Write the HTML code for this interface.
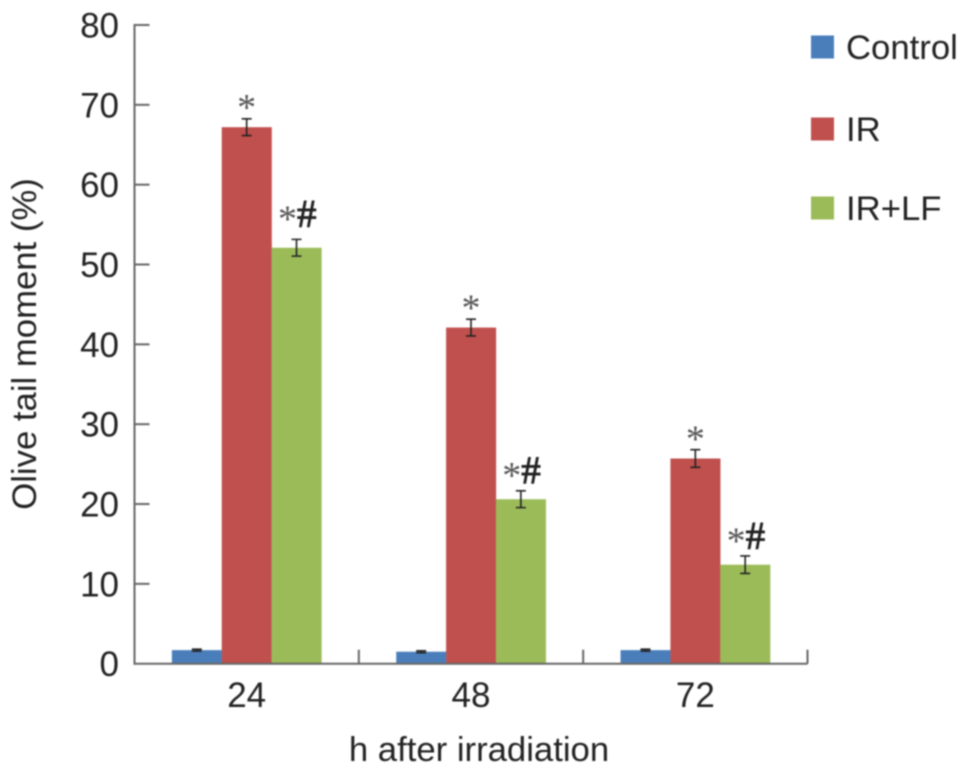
<!DOCTYPE html>
<html>
<head>
<meta charset="utf-8">
<title>Olive tail moment chart</title>
<style>
html,body{margin:0;padding:0;background:#fff;}
svg{display:block;filter:blur(0.75px);}
text{font-family:"Liberation Sans",sans-serif;fill:#222;}
</style>
</head>
<body>
<svg id="chart" width="969" height="775" viewBox="0 0 969 775" xmlns="http://www.w3.org/2000/svg"></svg>
<script>
const categories = ['24', '48', '72'];
const seriesNames = ['Control', 'IR', 'IR+LF'];
const controlValues = [1.7, 1.5, 1.7];
const irValues = [67.2, 42.1, 25.7];
const irLfValues = [52.1, 20.6, 12.4];
const controlErrors = [0.12, 0.12, 0.12];
const irErrors = [1.05, 1.05, 1.1];
const irLfErrors = [1.05, 1.05, 1.1];
const seriesMarks = ['', '*', '*#'];
const yTicks = [0, 10, 20, 30, 40, 50, 60, 70, 80];
const yTitle = 'Olive tail moment (%)';
const xTitle = 'h after irradiation';

const allValues = [controlValues, irValues, irLfValues];
const allErrors = [controlErrors, irErrors, irLfErrors];
const colors = ['#4a7ebb', '#c0504d', '#9bbb59'];
const plot = {left: 134.5, right: 807.5, top: 25, bottom: 663.7};
const yMax = 80;
const NS = 'http://www.w3.org/2000/svg';
const svg = document.getElementById('chart');

function yScale(v) {
  return plot.bottom - (v / yMax) * (plot.bottom - plot.top);
}
function bandWidth() {
  return (plot.right - plot.left) / categories.length;
}
function barWidth() {
  return bandWidth() / 4.5;
}
function barX(c, s) {
  return plot.left + c * bandWidth() + barWidth() * 0.75 + s * barWidth();
}
function make(tag, attrs, text) {
  const el = document.createElementNS(NS, tag);
  for (const k in attrs) el.setAttribute(k, attrs[k]);
  if (text !== undefined) el.textContent = text;
  svg.appendChild(el);
  return el;
}

// bars
allValues.forEach(function (vals, s) {
  vals.forEach(function (v, c) {
    const bar = make('rect', {x: barX(c, s), y: yScale(v), width: barWidth() + 0.2, height: plot.bottom - yScale(v), fill: colors[s]});
    
    
  });
});

// error bars
allValues.forEach(function (vals, s) {
  vals.forEach(function (v, c) {
    const cx = barX(c, s) + barWidth() / 2;
    const hi = yScale(v + allErrors[s][c]);
    const lo = yScale(v - allErrors[s][c]);
    const err = make('path', {d: 'M' + (cx - 5) + ' ' + hi + 'H' + (cx + 5) + 'M' + cx + ' ' + hi + 'V' + lo + 'M' + (cx - 5) + ' ' + lo + 'H' + (cx + 5), stroke: '#222', 'stroke-width': 1.6, fill: 'none'});
    
    
  });
});

// significance marks
allValues.forEach(function (vals, s) {
  if (!seriesMarks[s]) return;
  vals.forEach(function (v, c) {
    const cx = barX(c, s) + barWidth() / 2 + (s === 2 ? 0.7 : 0);
    const lift = s === 1 ? 7 : (c === 0 ? 16 : 11);
    const t = make('text', {x: cx, y: yScale(v) - lift, 'text-anchor': 'middle', 'font-size': 38});
    t.style.fontFamily = '"Liberation Serif", serif';
    
    
    seriesMarks[s].split('').forEach(function (ch) {
      const span = document.createElementNS(NS, 'tspan');
      span.textContent = ch;
      if (ch === '*') {
        span.setAttribute('fill', '#555');
      } else {
        span.setAttribute('dy', '-5');
        span.setAttribute('stroke', '#222');
        span.setAttribute('stroke-width', '0.9');
        span.setAttribute('font-size', '39');
      }
      t.appendChild(span);
    });
  });
});

// axes
const axisColor = '#666';
const yAxis = make('line', {x1: plot.left, x2: plot.left, y1: plot.top - 1, y2: plot.bottom + 1, stroke: axisColor, 'stroke-width': 2});


const xAxis = make('line', {x1: plot.left, x2: plot.right, y1: plot.bottom, y2: plot.bottom, stroke: axisColor, 'stroke-width': 2});



yTicks.forEach(function (v) {
  if (v !== 0) {
    const tick = make('line', {x1: plot.left, x2: plot.left + 15, y1: yScale(v), y2: yScale(v), stroke: axisColor, 'stroke-width': 2});
    
    
  }
  const label = make('text', {x: 119, y: yScale(v) + 12.5, 'text-anchor': 'end', 'font-size': 35}, String(v));
  
  
});

categories.forEach(function (cat, c) {
  const tx = plot.left + (c + 1) * bandWidth();
  const tick = make('line', {x1: tx, x2: tx, y1: plot.bottom - 14, y2: plot.bottom, stroke: axisColor, 'stroke-width': 2});
  
  
  const label = make('text', {x: plot.left + (c + 0.5) * bandWidth(), y: 707, 'text-anchor': 'middle', 'font-size': 35}, cat);
  
  
});

// titles
const xt = make('text', {x: 479, y: 761, 'text-anchor': 'middle', 'font-size': 34.7}, xTitle);


const yt = make('text', {x: 0, y: 0, 'text-anchor': 'middle', 'font-size': 34.7, transform: 'translate(36 344) rotate(-90)'}, yTitle);



// legend
const legendY = [47, 129, 208];
seriesNames.forEach(function (name, s) {
  const swatch = make('rect', {x: 811, y: legendY[s] - 11.5, width: 23, height: 23, fill: colors[s]});
  
  
  const label = make('text', {x: 846, y: legendY[s] + 12, 'font-size': 34.7}, name);
  
  
});
</script>
</body>
</html>
